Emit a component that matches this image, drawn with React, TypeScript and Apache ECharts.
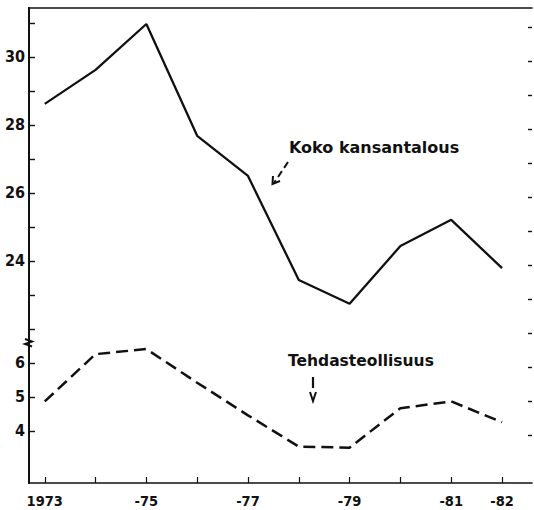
import { useEffect, useRef } from 'react';
import * as echarts from 'echarts';

const years = [1973, 1974, 1975, 1976, 1977, 1978, 1979, 1980, 1981, 1982];
const kokoKansantalous = [28.62, 29.62, 30.97, 27.68, 26.5, 23.44, 22.74, 24.44, 25.21, 23.79];
const tehdasteollisuus = [4.87, 6.26, 6.41, 5.42, 4.46, 3.54, 3.51, 4.67, 4.87, 4.26];

const xLabelYears = [1973, 1975, 1977, 1979, 1981, 1982];
const upperLabels = [24, 26, 28, 30];
const upperTicks = [22, 23, 24, 25, 26, 27, 28, 29, 30, 31];
const lowerLabels = [4, 5, 6];
const lowerTicks = [4, 5, 6];
const rightTicks = [18.87, 19.87, 20.87, 21.87, 22.87, 23.87, 24.87, 25.87, 26.87, 27.87, 28.87, 29.87, 30.87];

const UPPER_MIN = 17.47;
const UPPER_MAX = 31.44;
const AXIS_SHIFT = 15;
const X_MIN = 1972.69;
const X_MAX = 1982.59;

const FONT = "'DejaVu Sans', sans-serif";
const COND = "'DejaVu Sans Condensed', 'DejaVu Sans', sans-serif";
const INK = '#111';

export default function App() {
  const ref = useRef<HTMLDivElement>(null);
  useEffect(() => {
    const chart = echarts.init(ref.current!, null, { renderer: 'svg' });
    chart.setOption({
      animation: false,
      backgroundColor: '#fff',
      grid: { left: 29, top: 8, right: 2, bottom: 27 },
      xAxis: [
        {
          type: 'value',
          min: X_MIN,
          max: X_MAX,
          position: 'bottom',
          axisLine: { show: true, onZero: false, lineStyle: { color: INK, width: 1.6 } },
          axisTick: { show: true, inside: true, length: 6, customValues: years, lineStyle: { color: INK, width: 1.2 } },
          axisLabel: {
            show: true,
            customValues: xLabelYears,
            margin: 10,
            color: INK,
            fontFamily: COND,
            fontWeight: 'bold',
            fontSize: 14.5,
            formatter: (v: number) => (v === 1973 ? '1973' : '-' + String(v).slice(2)),
          },
          splitLine: { show: false },
        },
        {
          type: 'value',
          min: X_MIN,
          max: X_MAX,
          position: 'top',
          axisLine: { show: true, onZero: false, lineStyle: { color: INK, width: 1.6 } },
          axisTick: { show: false },
          axisLabel: { show: false },
          splitLine: { show: false },
        },
      ],
      yAxis: [
        {
          type: 'value',
          min: UPPER_MIN,
          max: UPPER_MAX,
          position: 'left',
          axisLine: { show: true, onZero: false, lineStyle: { color: INK, width: 2 } },
          axisTick: { show: true, inside: true, length: 6, customValues: upperTicks, lineStyle: { color: INK, width: 1.4 } },
          axisLabel: {
            show: true,
            customValues: upperLabels,
            margin: 4,
            color: INK,
            fontFamily: COND,
            fontWeight: 'bold',
            fontSize: 16,
          },
          splitLine: { show: false },
        },
        {
          type: 'value',
          min: UPPER_MIN - AXIS_SHIFT,
          max: UPPER_MAX - AXIS_SHIFT,
          position: 'left',
          axisLine: { show: true, onZero: false, lineStyle: { color: INK, width: 2 } },
          axisTick: { show: true, inside: true, length: 6, customValues: lowerTicks, lineStyle: { color: INK, width: 1.4 } },
          axisLabel: {
            show: true,
            customValues: lowerLabels,
            margin: 4,
            color: INK,
            fontFamily: COND,
            fontWeight: 'bold',
            fontSize: 16,
          },
          splitLine: { show: false },
        },
        {
          type: 'value',
          min: UPPER_MIN,
          max: UPPER_MAX,
          position: 'right',
          axisLine: { show: false, onZero: false },
          axisTick: { show: true, inside: true, length: 4, customValues: rightTicks, lineStyle: { color: INK, width: 1.4 } },
          axisLabel: { show: false },
          splitLine: { show: false },
        },
      ],
      series: [
        {
          name: 'Koko kansantalous',
          type: 'line',
          xAxisIndex: 0,
          yAxisIndex: 0,
          symbol: 'none',
          data: years.map((y, i) => [y, kokoKansantalous[i]]),
          lineStyle: { color: INK, width: 2.3, type: 'solid' },
        },
        {
          name: 'Tehdasteollisuus',
          type: 'line',
          xAxisIndex: 0,
          yAxisIndex: 1,
          symbol: 'none',
          data: years.map((y, i) => [y, tehdasteollisuus[i]]),
          lineStyle: { color: INK, width: 2.5, type: [12, 6] },
        },
      ],
      graphic: [
        {
          type: 'text',
          left: 289,
          top: 139,
          style: { text: 'Koko kansantalous', fill: INK, font: `bold 16px ${FONT}` },
        },
        {
          type: 'line',
          shape: { x1: 288, y1: 162, x2: 274, y2: 183 },
          style: { stroke: INK, lineWidth: 2, lineDash: [7, 4] },
        },
        {
          type: 'polyline',
          shape: { points: [[273, 176], [272.5, 184], [280, 181]] },
          style: { stroke: INK, lineWidth: 2, fill: 'none' },
        },
        {
          type: 'text',
          left: 288,
          top: 353,
          style: { text: 'Tehdasteollisuus', fill: INK, font: `bold 15.5px ${FONT}` },
        },
        {
          type: 'line',
          shape: { x1: 313, y1: 377, x2: 313, y2: 388 },
          style: { stroke: INK, lineWidth: 2.2 },
        },
        {
          type: 'polyline',
          shape: { points: [[310, 392], [313, 401], [316, 392]] },
          style: { stroke: INK, lineWidth: 2, fill: 'none' },
        },
        {
          type: 'polyline',
          shape: { points: [[25, 339], [32, 341.5], [25, 344], [32, 346.5]] },
          style: { stroke: INK, lineWidth: 2, fill: 'none' },
        },
      ],
    });
    return () => chart.dispose();
  }, []);
  return (
    <div
      ref={ref}
      style={{ position: 'fixed', left: 0, top: 0, width: 534, height: 510, background: '#fff' }}
    />
  );
}
